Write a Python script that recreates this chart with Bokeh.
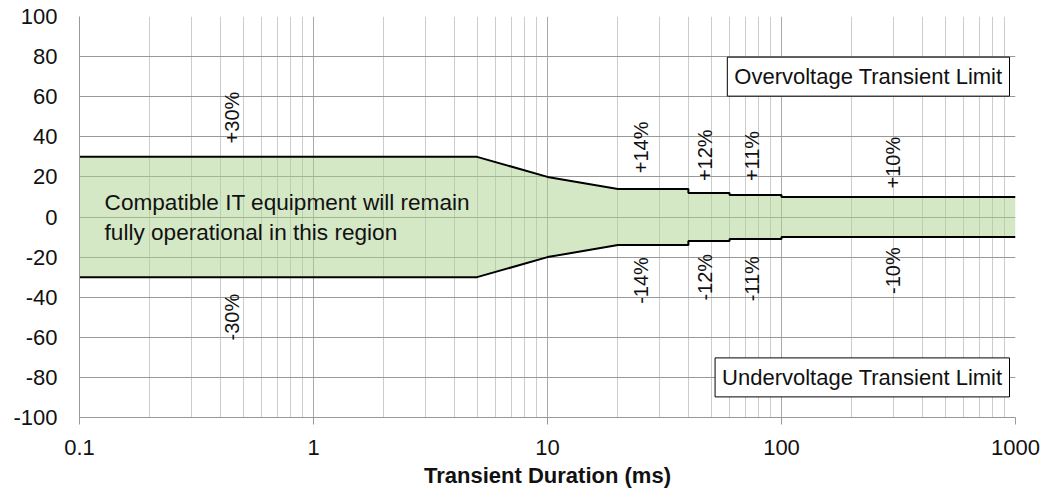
from bokeh.plotting import figure
from bokeh.models import FixedTicker, Label, ColumnDataSource
from bokeh.core.properties import value
from bokeh.embed import file_html
from bokeh.resources import INLINE

# envelope data (duration ms, percent)
duration = [0.1, 5, 10, 20, 40, 40, 60, 60, 100, 100, 1000]
upper_pct = [30, 30, 20, 14, 14, 12, 12, 11, 11, 10, 10]
lower_pct = [-v for v in upper_pct]

# step labels
label_x = [0.45, 25, 47, 75, 300]
upper_text = ["+30%", "+14%", "+12%", "+11%", "+10%"]
lower_text = ["-30%", "-14%", "-12%", "-11%", "-10%"]
upper_label_y = [36.7, 21.8, 17.9, 17.9, 14.2]
lower_label_y = [-38.3, -20.0, -18.4, -19.5, -15.1]

x_ticks = [0.1, 1, 10, 100, 1000]
x_tick_labels = ["0.1", "1", "10", "100", "1000"]
y_ticks = list(range(-100, 101, 20))
y_tick_labels = [str(v) for v in y_ticks]

FONT = "Liberation Sans"

p = figure(width=1057, height=491, x_axis_type="log",
           x_range=(0.1, 1000), y_range=(-100, 100),
           output_backend="svg", toolbar_location=None,
           min_border_left=79, min_border_right=42,
           min_border_top=16, min_border_bottom=74)
p.outline_line_color = None
p.background_fill_color = "white"

minor = [m * d for d in [0.1, 1, 10, 100] for m in range(2, 10)]
p.xaxis.ticker = FixedTicker(ticks=x_ticks, minor_ticks=minor)
p.xaxis.major_label_overrides = {t: l for t, l in zip(x_ticks, x_tick_labels)}
p.yaxis.ticker = FixedTicker(ticks=y_ticks)
p.yaxis.major_label_overrides = {t: l for t, l in zip(y_ticks, y_tick_labels)}

for ax in (p.xaxis, p.yaxis):
    ax.axis_line_color = "#999999"
    ax.major_tick_line_color = "#999999"
    ax.minor_tick_out = 0
    ax.minor_tick_in = 0
    ax.major_tick_in = 0
    ax.major_label_text_font = FONT
    ax.major_label_text_font_size = "22px"
    ax.major_label_text_color = "#111111"

p.xaxis.major_tick_out = 7
p.xaxis.major_label_standoff = 15
p.yaxis.major_tick_out = 0
p.yaxis.major_label_standoff = 22

p.xaxis.axis_label = "Transient Duration (ms)"
p.xaxis.axis_label_text_font = FONT
p.xaxis.axis_label_text_font_size = "22px"
p.xaxis.axis_label_text_font_style = "bold"
p.xaxis.axis_label_text_color = "#111111"
p.xaxis.axis_label_standoff = 5

p.ygrid.grid_line_color = "#999999"
p.xgrid.grid_line_color = "#aaaaaa"
p.xgrid.minor_grid_line_color = "#cccccc"

src = ColumnDataSource(dict(x=duration, lo=lower_pct, hi=upper_pct))
p.varea(x="x", y1="lo", y2="hi", source=src, fill_color=(169, 209, 142), fill_alpha=0.5)
p.line(x="x", y="hi", source=src, line_color="black", line_width=2)
p.line(x="x", y="lo", source=src, line_color="black", line_width=2)

p.text(x=label_x, y=upper_label_y, text=upper_text, angle=1.5708,
       text_align="left", text_baseline="middle",
       text_font=value(FONT), text_font_size="20px", text_color="#111111")
p.text(x=label_x, y=lower_label_y, text=lower_text, angle=1.5708,
       text_align="right", text_baseline="middle",
       text_font=value(FONT), text_font_size="20px", text_color="#111111")

p.add_layout(Label(x=0.128, y=0,
                   text="Compatible IT equipment will remain\nfully operational in this region",
                   text_align="left", text_baseline="middle",
                   text_font=FONT, text_font_size="22.6px", text_color="#111111"))

for txt, yv in [("Overvoltage Transient Limit", 70), ("Undervoltage Transient Limit", -80)]:
    p.add_layout(Label(x=1000, y=yv, x_offset=-6, text=txt,
                       text_align="right", text_baseline="middle",
                       text_font=FONT, text_font_size="22px", text_color="#111111",
                       background_fill_color="white", border_line_color="black",
                       border_line_width=1, padding=7))

open("out.html", "w").write(file_html(p, INLINE))
